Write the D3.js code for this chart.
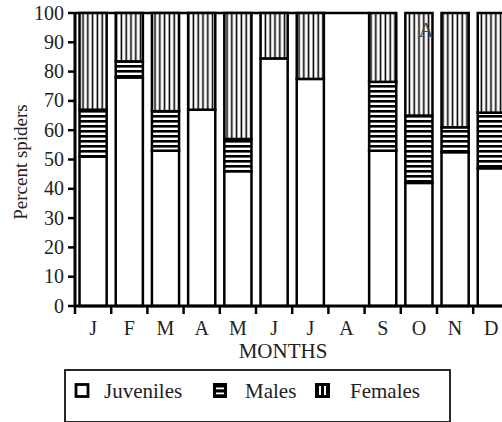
<!DOCTYPE html>
<html>
<head>
<meta charset="utf-8">
<script src="https://cdn.jsdelivr.net/npm/d3@7"></script>
<style>
  html, body { margin: 0; padding: 0; background: #fff; }
  svg { display: block; }
</style>
</head>
<body>
<div id="chart"></div>
<script>
// 月ごとのクモの構成比（%）
const months = ['J', 'F', 'M', 'A', 'M', 'J', 'J', 'A', 'S', 'O', 'N', 'D'];
const juveniles = [51, 78, 53, 67, 46, 84.5, 77.5, 0, 53, 42, 52.5, 47];
const males = [16, 5.5, 13.5, 0, 11, 0, 0, 0, 23.5, 23, 8.5, 19];
const females = [33, 16.5, 33.5, 33, 43, 15.5, 22.5, 0, 23.5, 35, 39, 34];
const yTicks = [0, 10, 20, 30, 40, 50, 60, 70, 80, 90, 100];
const legendItems = ['Juveniles', 'Males', 'Females'];

const width = 502, height = 422;
const plotLeft = 75, plotTop = 13, plotBottom = 306;
const serif = '"Liberation Serif", "Times New Roman", "DejaVu Serif", serif';

const svg = d3.select('#chart').append('svg')
  .attr('width', width).attr('height', height)
  .attr('font-family', serif);

// ハッチング用パターン
const defs = svg.append('defs');
const pv = defs.append('pattern').attr('id', 'pFem')
  .attr('patternUnits', 'userSpaceOnUse').attr('width', 4.8).attr('height', 10);
pv.append('rect').attr('width', 4.8).attr('height', 10).attr('fill', '#fff');
pv.append('rect').attr('x', 0.6).attr('width', 1.6).attr('height', 10).attr('fill', '#000');

const ph = defs.append('pattern').attr('id', 'pMal')
  .attr('patternUnits', 'userSpaceOnUse').attr('width', 10).attr('height', 5);
ph.append('rect').attr('width', 10).attr('height', 5).attr('fill', '#fff');
ph.append('rect').attr('y', 0).attr('width', 10).attr('height', 2.6).attr('fill', '#000');

const fills = { juveniles: '#fff', males: 'url(#pMal)', females: 'url(#pFem)' };

const x = d3.scaleBand()
  .domain(d3.range(months.length))
  .range([plotLeft, plotLeft + 36.2 * months.length])
  .paddingInner(0.25)
  .paddingOuter(0.125);

const y = d3.scaleLinear().domain([0, 100]).range([plotBottom, plotTop]);

const rows = months.map((m, i) => ({
  i, juveniles: juveniles[i], males: males[i], females: females[i]
}));

const stack = d3.stack().keys(['juveniles', 'males', 'females']);
const series = stack(rows);

// 上端の線
svg.append('line')
  .attr('x1', plotLeft).attr('x2', 370)
  .attr('y1', y(100)).attr('y2', y(100))
  .attr('stroke', '#000').attr('stroke-width', 2.5);

// 棒
series.forEach(s => {
  svg.append('g').selectAll('rect')
    .data(s.filter(d => d[1] > d[0]))
    .enter().append('rect')
    .attr('x', d => x(d.data.i))
    .attr('width', x.bandwidth())
    .attr('y', d => y(d[1]))
    .attr('height', d => y(d[0]) - y(d[1]))
    .attr('fill', fills[s.key])
    .attr('stroke', '#000')
    .attr('stroke-width', 2.5);
});

// Y軸
svg.append('line')
  .attr('x1', plotLeft).attr('x2', plotLeft)
  .attr('y1', plotTop - 1).attr('y2', plotBottom + 1)
  .attr('stroke', '#000').attr('stroke-width', 3);

const yg = svg.append('g');
yg.selectAll('line').data(yTicks).enter().append('line')
  .attr('x1', plotLeft - 7).attr('x2', plotLeft)
  .attr('y1', d => y(d)).attr('y2', d => y(d))
  .attr('stroke', '#000').attr('stroke-width', 2.5);
yg.selectAll('text').data(yTicks).enter().append('text')
  .attr('x', plotLeft - 11).attr('y', d => y(d) + 6.5)
  .attr('text-anchor', 'end')
  .attr('font-size', 20)
  .attr('fill', '#222')
  .text(d => d);

// X軸
svg.append('line')
  .attr('x1', plotLeft - 1).attr('x2', width)
  .attr('y1', plotBottom).attr('y2', plotBottom)
  .attr('stroke', '#000').attr('stroke-width', 3);

const step = x.step();
const xg = svg.append('g');
xg.selectAll('line').data(d3.range(months.length)).enter().append('line')
  .attr('x1', i => x(i) - step * 0.125).attr('x2', i => x(i) - step * 0.125)
  .attr('y1', plotBottom).attr('y2', plotBottom + 8)
  .attr('stroke', '#000').attr('stroke-width', 2.5);
xg.selectAll('text').data(months).enter().append('text')
  .attr('x', (m, i) => x(i) + x.bandwidth() / 2)
  .attr('y', 335)
  .attr('text-anchor', 'middle')
  .attr('font-size', 20)
  .attr('fill', '#222')
  .text(d => d);

// 軸ラベル
svg.append('text')
  .attr('x', 283).attr('y', 358)
  .attr('text-anchor', 'middle')
  .attr('font-size', 21)
  .attr('fill', '#222')
  .text('MONTHS');

svg.append('text')
  .attr('transform', 'translate(27,162) rotate(-90)')
  .attr('text-anchor', 'middle')
  .attr('font-size', 19)
  .attr('fill', '#222')
  .text('Percent spiders');

// パネルラベル
svg.append('text')
  .attr('x', 426).attr('y', 37)
  .attr('text-anchor', 'middle')
  .attr('font-size', 21)
  .attr('fill', '#444')
  .text('A');

// 凡例
const lg = svg.append('g');
lg.append('rect')
  .attr('x', 65).attr('y', 370).attr('width', 385).attr('height', 52)
  .attr('fill', 'none').attr('stroke', '#111').attr('stroke-width', 1.8);

const iconX = [75, 213, 315];
const textX = [104, 245, 350];

// Juveniles アイコン
lg.append('rect').attr('x', iconX[0] + 1).attr('y', 384.5).attr('width', 12).attr('height', 12)
  .attr('fill', '#fff').attr('stroke', '#000').attr('stroke-width', 2.8);
// Males アイコン
lg.append('rect').attr('x', iconX[1]).attr('y', 383).attr('width', 14).attr('height', 15).attr('fill', '#000');
[387.5, 392.5].forEach(yy => lg.append('rect')
  .attr('x', iconX[1] + 3).attr('y', yy).attr('width', 8).attr('height', 1.8).attr('fill', '#fff'));
// Females アイコン
lg.append('rect').attr('x', iconX[2]).attr('y', 383).attr('width', 15).attr('height', 15).attr('fill', '#000');
[iconX[2] + 4, iconX[2] + 9].forEach(xx => lg.append('rect')
  .attr('x', xx).attr('y', 386).attr('width', 2).attr('height', 9).attr('fill', '#fff'));

lg.selectAll('text.leg').data(legendItems).enter().append('text')
  .attr('class', 'leg')
  .attr('x', (d, i) => textX[i]).attr('y', 398)
  .attr('font-size', 21)
  .attr('fill', '#222')
  .text(d => d);
</script>
</body>
</html>
